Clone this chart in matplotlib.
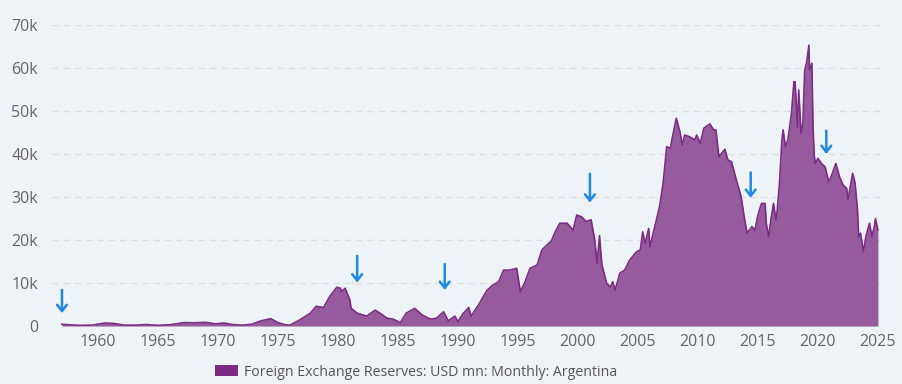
import matplotlib
matplotlib.use("Agg")
import matplotlib.pyplot as plt
from matplotlib.patches import Patch
import numpy as np

plt.rcParams["font.family"] = ["Open Sans", "DejaVu Sans"]

# Foreign exchange reserves, Argentina (USD mn)
years = [
    1957.0, 1957.5, 1958.5, 1959.5, 1960.6, 1961.3, 1962.2, 1963.2, 1964.0, 1965.0,
    1966.0, 1967.2, 1968.0, 1969.0, 1969.8, 1970.5, 1971.2, 1972.0, 1972.8, 1973.6,
    1974.4, 1975.0, 1975.6, 1976.0, 1976.8, 1977.7, 1978.2, 1978.8, 1979.3, 1979.9,
    1980.2, 1980.3, 1980.6, 1981.0, 1981.1, 1981.6, 1982.4, 1983.1, 1983.5, 1984.1,
    1984.6, 1985.2, 1985.7, 1986.4, 1987.0, 1987.7, 1988.2, 1988.8, 1989.2, 1989.75,
    1990.0, 1990.4, 1990.9, 1991.1, 1991.8, 1992.4, 1992.9, 1993.4, 1993.8, 1994.3,
    1994.9, 1995.2, 1995.6, 1996.0, 1996.6, 1997.0, 1997.4, 1997.8, 1998.1, 1998.5,
    1999.1, 1999.6, 1999.9, 2000.3, 2000.7, 2001.1, 2001.4, 2001.6, 2001.8, 2002.0,
    2002.4, 2002.7, 2002.9, 2003.1, 2003.5, 2003.9, 2004.3, 2004.9, 2005.2, 2005.4,
    2005.6, 2005.9, 2006.0, 2006.4, 2006.8, 2007.1, 2007.4, 2007.7, 2007.8, 2008.2,
    2008.5, 2008.7, 2008.9, 2009.3, 2009.75, 2009.9, 2010.2, 2010.5, 2011.0, 2011.3,
    2011.5, 2011.75, 2012.25, 2012.5, 2012.8, 2013.2, 2013.6, 2013.9, 2014.1, 2014.5,
    2014.75, 2015.0, 2015.3, 2015.6, 2015.7, 2015.9, 2016.1, 2016.3, 2016.5, 2016.6,
    2016.8, 2017.0, 2017.1, 2017.3, 2017.5, 2017.8, 2018.0, 2018.1, 2018.3, 2018.4,
    2018.6, 2018.75, 2018.9, 2019.05, 2019.25, 2019.3, 2019.5, 2019.6, 2019.7, 2019.8,
    2020.0, 2020.3, 2020.6, 2020.9, 2021.1, 2021.5, 2021.8, 2022.1, 2022.4, 2022.5,
    2022.7, 2022.9, 2023.1, 2023.3, 2023.4, 2023.55, 2023.8, 2024.0, 2024.3, 2024.5,
    2024.7, 2024.8, 2025.0,
]
reserves = [
    400, 300, 150, 200, 700, 600, 200, 200, 350, 150,
    300, 800, 750, 850, 500, 700, 350, 200, 400, 1200,
    1700, 800, 300, 200, 1400, 3000, 4600, 4300, 6800, 9000,
    8800, 8000, 8800, 6000, 4100, 3000, 2300, 3700, 3000, 1800,
    1600, 800, 3000, 4100, 2600, 1600, 1800, 3300, 1200, 2300,
    1000, 2800, 4300, 2300, 5300, 8200, 9500, 10300, 13000, 13000,
    13400, 8000, 10300, 13400, 14200, 17700, 18800, 19800, 21900, 23900,
    23900, 22300, 25800, 25400, 24300, 24700, 20000, 14600, 21000, 14200,
    9900, 9100, 10300, 8400, 12300, 13000, 15300, 17300, 17700, 21900,
    19200, 22700, 18400, 23100, 27700, 33200, 41700, 41300, 42900, 48300,
    45200, 42100, 44400, 44000, 43300, 44400, 42500, 46000, 47000, 45600,
    45600, 39400, 41100, 38600, 38200, 34000, 30100, 24700, 21600, 23100,
    22300, 25800, 28500, 28500, 23900, 20800, 25000, 28500, 24700, 26600,
    33200, 43300, 45600, 41700, 43300, 49500, 56800, 56800, 46300, 54900,
    44800, 47100, 59500, 61100, 65300, 59500, 61100, 45600, 39400, 37800,
    39000, 37800, 37000, 33600, 34700, 37800, 34700, 32800, 32000, 29300,
    32400, 35500, 33200, 27000, 20800, 21600, 17300, 20800, 23900, 20800,
    23100, 25000, 22300,
]

# blue arrow annotations: year, tail value, head value
arrow_years = [1957.0, 1981.6, 1988.9, 2001.0, 2014.4, 2020.7]
arrow_tails = [8400, 16300, 14400, 35400, 35700, 45400]
arrow_heads = [3000, 10100, 8400, 28700, 29800, 40000]

yticks = [0, 10000, 20000, 30000, 40000, 50000, 60000, 70000]
ytick_labels = ["0", "10k", "20k", "30k", "40k", "50k", "60k", "70k"]
xticks = [1960, 1965, 1970, 1975, 1980, 1985, 1990, 1995, 2000, 2005, 2010, 2015, 2020, 2025]

bg = "#eef3f8"
fill_color = "#955b9c"
line_color = "#7b2c84"
arrow_color = "#1e88e5"

fig = plt.figure(figsize=(9.03, 3.84), dpi=100, facecolor=bg)
ax = fig.add_axes([0.0576, 0.151, 0.9235, 0.784], facecolor=bg)

x = np.array(years)
y = np.array(reserves)
ax.fill_between(x, 0, y, color=fill_color, linewidth=0)
ax.plot(x, y, color=line_color, linewidth=1.2)

for yr, tail, head in zip(arrow_years, arrow_tails, arrow_heads):
    ax.annotate("", xy=(yr, head), xytext=(yr, tail),
                arrowprops=dict(arrowstyle="->,head_length=0.45,head_width=0.35",
                                color=arrow_color, lw=1.8,
                                shrinkA=0, shrinkB=0))

ax.set_xlim(1956.17, 2025.67)
ax.set_ylim(0, 70000)
ax.set_yticks(yticks)
ax.set_yticklabels(ytick_labels)
ax.set_xticks(xticks)
ax.tick_params(axis="both", length=0, colors="#666666", labelsize=11.5)
ax.tick_params(axis="x", pad=6)
ax.tick_params(axis="y", pad=10)
ax.yaxis.grid(True, color="#d9dde2", linestyle=(0, (5, 4)), linewidth=0.9)
ax.set_axisbelow(True)
for s in ax.spines.values():
    s.set_visible(False)

handle = Patch(facecolor="#7b2a82", edgecolor="none")
fig.legend([handle], ["Foreign Exchange Reserves: USD mn: Monthly: Argentina"],
           loc="center", bbox_to_anchor=(416 / 903, 1 - 372 / 384),
           frameon=False, fontsize=10.2, labelcolor="#555555",
           handlelength=1.6, handleheight=0.9, handletextpad=0.4)

fig.savefig("out.png", dpi=100, facecolor=bg)
